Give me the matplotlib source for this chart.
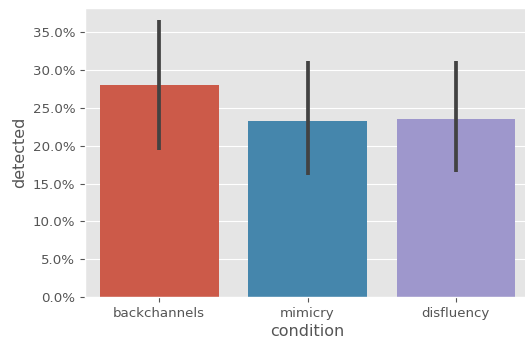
import numpy as np
import matplotlib
matplotlib.use("Agg")
import matplotlib.pyplot as plt
from matplotlib.ticker import PercentFormatter
import seaborn as sns

conditions = ["backchannels", "mimicry", "disfluency"]
detected = [0.280, 0.2325, 0.235]
ci_low = [0.194, 0.161, 0.165]
ci_high = [0.366, 0.312, 0.312]

plt.style.use("ggplot")
colors = [sns.desaturate(c, 0.75) for c in ["#E24A33", "#348ABD", "#988ED5"]]

fig = plt.figure(figsize=(5.25, 3.47), dpi=100)
ax = fig.add_axes([85 / 525, 50 / 347, 445 / 525, 289 / 347])

x = np.arange(len(conditions))
ax.bar(x, detected, width=0.8, color=colors)
ax.vlines(x, ci_low, ci_high, color="#424242", linewidth=2.7, zorder=3)

ax.set_xlim(-0.5, 2.5)
ax.set_ylim(0, 0.382)
ax.set_yticks(np.arange(0, 0.36, 0.05))
ax.yaxis.set_major_formatter(PercentFormatter(xmax=1, decimals=1))
ax.set_xticks(x)
ax.set_xticklabels(conditions)
ax.tick_params(labelsize=9.6, length=3.5, width=0.8, color="#555555")
ax.grid(axis="x", visible=False)
ax.set_xlabel("condition", fontsize=11.5, labelpad=3)
ax.set_ylabel("detected", fontsize=11.5)

fig.savefig("out.png", dpi=100)
